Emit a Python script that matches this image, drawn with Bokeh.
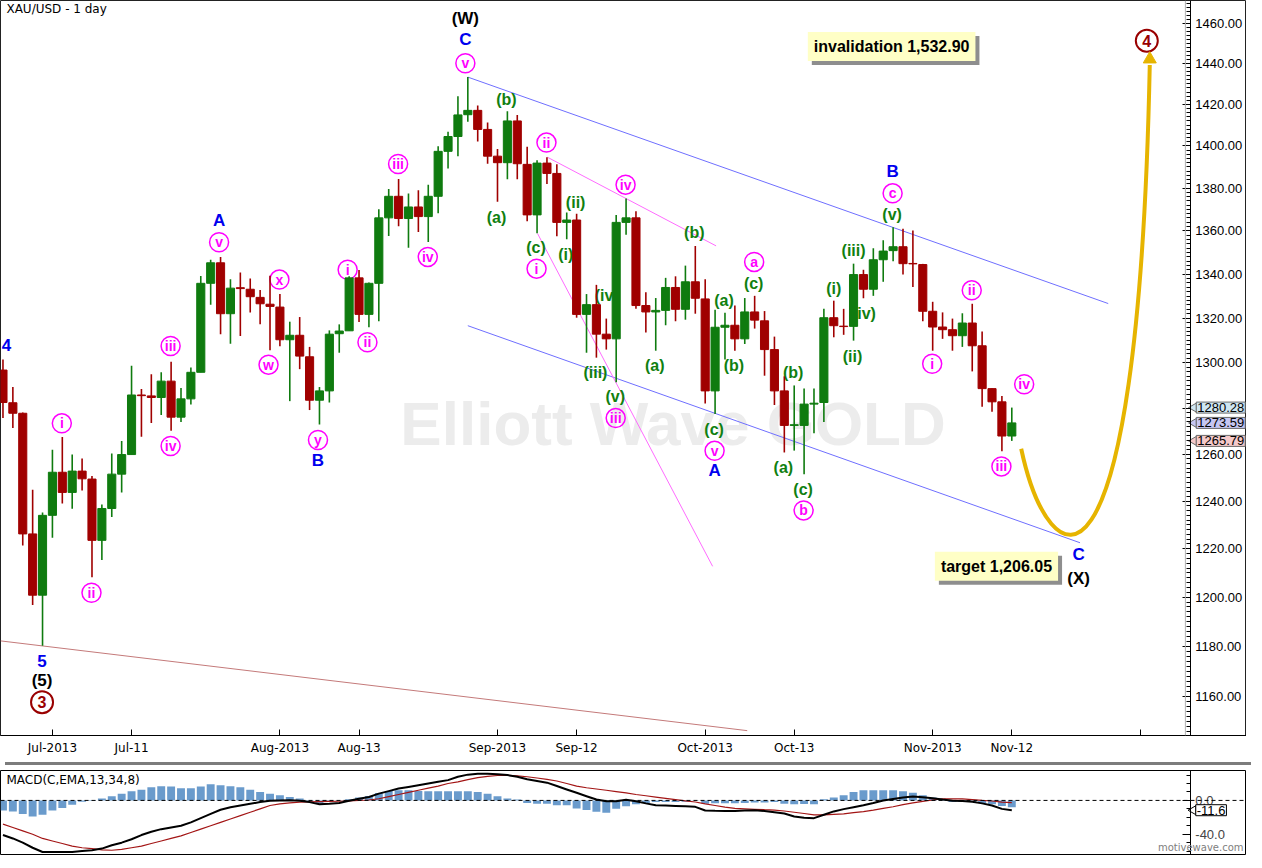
from bokeh.plotting import figure
from bokeh.models import (Range1d, FixedTicker, PrintfTickFormatter, Label, Span, Div,
                          LogAxis, LinearAxis)
from bokeh.layouts import column
from bokeh.core.properties import value
from bokeh.embed import file_html
from bokeh.resources import INLINE

# ---------------- data ----------------
opens = [1296.8,1282.4,1277.8,1226.2,1200.8,1234.0,1252.3,1243.7,1252.8,1249.4,
 1223.5,1236.9,1251.5,1259.9,1285.8,1285.4,1284.7,1291.9,1276.1,1284.1,
 1295.8,1335.8,1345.2,1322.0,1333.8,1333.1,1329.4,1326.3,1325.0,1310.3,
 1312.3,1302.7,1283.5,1287.6,1313.0,1314.3,1338.3,1321.7,1335.8,1366.0,
 1376.1,1365.7,1371.1,1366.6,1376.1,1397.4,1404.5,1415.0,1417.1,1407.9,
 1395.1,1392.0,1412.0,1391.2,1367.4,1391.8,1386.9,1363.9,1365.0,1321.7,
 1326.1,1312.8,1310.7,1363.9,1366.0,1325.7,1322.8,1323.5,1333.9,1324.0,
 1336.5,1328.7,1287.6,1315.9,1316.8,1310.7,1322.8,1318.8,1305.9,1287.6,
 1272.5,1272.5,1281.8,1282.5,1320.2,1316.4,1316.3,1339.8,1333.1,1346.6,
 1350.8,1352.6,1344.9,1344.4,1323.1,1316.0,1314.8,1312.1,1317.8,1307.6,
 1288.6,1282.8,1267.9]
highs = [1301.5,1289.3,1278.1,1244.8,1235.2,1262.0,1267.5,1259.9,1258.2,1250.7,
 1238.6,1260.3,1265.8,1298.7,1288.4,1294.9,1295.8,1300.5,1288.9,1297.9,
 1339.2,1346.6,1347.9,1337.6,1340.8,1338.0,1332.7,1339.3,1330.9,1318.4,
 1320.5,1307.1,1289.3,1314.5,1317.2,1339.0,1341.9,1336.2,1370.0,1379.5,
 1384.3,1377.4,1378.9,1381.5,1399.8,1406.8,1424.0,1433.3,1419.4,1411.2,
 1398.5,1416.7,1414.8,1399.6,1393.1,1394.6,1391.2,1368.5,1367.9,1330.9,
 1335.1,1319.8,1367.3,1375.1,1369.1,1331.7,1329.1,1338.3,1339.0,1343.9,
 1352.9,1337.6,1323.8,1322.4,1325.7,1329.1,1330.1,1323.2,1311.7,1294.0,
 1290.0,1288.6,1288.6,1324.2,1327.9,1324.2,1344.8,1342.0,1351.9,1355.6,
 1361.6,1360.9,1360.1,1344.7,1327.4,1322.6,1319.8,1322.2,1326.5,1314.0,
 1288.6,1285.4,1280.28]
lows = [1275.7,1271.4,1221.4,1196.8,1180.2,1224.6,1239.0,1236.8,1244.5,1208.2,
 1215.3,1233.3,1243.7,1259.9,1267.6,1273.6,1277.0,1270.2,1274.0,1281.6,
 1295.8,1326.1,1312.8,1308.5,1312.0,1322.6,1317.2,1305.6,1307.4,1283.1,
 1297.2,1279.2,1272.9,1282.5,1304.5,1314.3,1318.3,1315.9,1318.6,1357.6,
 1362.1,1352.1,1359.4,1354.8,1368.2,1389.2,1395.1,1411.6,1402.1,1391.5,
 1373.5,1384.1,1384.1,1364.4,1358.9,1381.9,1357.4,1356.1,1320.2,1304.5,
 1302.3,1305.9,1291.4,1358.2,1324.2,1313.5,1305.4,1316.8,1318.6,1319.3,
 1322.0,1282.1,1277.5,1301.5,1305.4,1308.4,1315.3,1294.3,1281.4,1260.8,
 1261.6,1251.4,1269.1,1274.0,1311.4,1312.5,1309.9,1329.0,1330.1,1336.5,
 1345.9,1339.8,1334.1,1318.6,1305.4,1310.7,1305.4,1307.1,1296.2,1280.6,
 1278.5,1261.3,1265.79]
closes = [1282.5,1277.8,1226.2,1200.8,1234.0,1252.3,1243.7,1252.8,1249.5,1223.5,
 1236.9,1251.5,1259.9,1285.8,1285.5,1284.7,1291.9,1276.1,1284.1,1295.8,
 1335.8,1345.2,1322.0,1333.6,1333.4,1329.7,1326.5,1325.3,1310.3,1312.3,
 1303.0,1283.5,1287.6,1312.8,1314.2,1338.3,1321.7,1335.8,1366.0,1376.1,
 1365.7,1371.1,1366.6,1376.1,1397.4,1404.5,1414.9,1417.1,1407.9,1395.1,
 1392.0,1412.0,1391.5,1367.4,1391.8,1386.9,1363.9,1365.0,1321.7,1326.1,
 1312.8,1310.7,1363.9,1366.0,1325.7,1322.8,1323.5,1333.9,1324.0,1336.5,
 1329.0,1287.6,1315.9,1316.8,1310.7,1322.8,1319.1,1305.9,1287.6,1272.5,
 1272.8,1281.8,1282.2,1320.2,1316.6,1316.2,1339.8,1333.1,1346.6,1350.6,
 1352.6,1344.8,1344.7,1323.1,1316.0,1314.8,1312.1,1317.8,1307.6,1288.6,
 1282.8,1267.9,1273.59]

macd_line = [-41,-45,-50,-56,-61,-61,-61,-61,-60,-59,
 -57,-53,-50,-46,-41,-37,-34,-32,-30,-26,
 -21,-16,-11,-8,-6,-4,-2,-0.5,0,0.3,
 -0.5,-2,-4.6,-4,-3,-0.5,2,4,8,11,
 14,16,18,20,22,24,28,30.5,31.5,31.5,
 31,30,28,25,23,21,17,13,9,5,
 1,-1,-1,0.8,-1,-3.5,-5.7,-6,-6.5,-7,
 -7.6,-12,-12.3,-12.5,-12.6,-12,-11.5,-12.5,-14,-15.5,
 -19,-20.5,-21,-17,-13,-10.3,-8,-5.7,-3,0,
 1.8,3.4,4.6,3.8,2.5,1,-0.3,-0.8,-1.5,-3.5,
 -6,-10,-11.6]
signal_line = [-28,-32,-36,-40,-45,-48,-51,-54,-56,-57,
 -58.5,-59,-58,-56,-54,-51,-48,-45,-42,-38,
 -34,-30,-26,-22,-18,-14,-10,-6,-4,-3,
 -2,-1.8,-1.5,-1.2,-1,-0.5,0,0.5,2,4.5,
 7,9.5,12,14.5,17,20,22,24.5,27,28.5,
 29.5,29.7,29,28,26.5,25,23,20,17,15,
 13.5,12,10.5,9,7,5.5,4,2.5,1,-0.5,
 -1.9,-4,-6,-8,-9.5,-10,-10.5,-11,-11.4,-12.5,
 -14,-15.5,-17,-17,-16.5,-16,-14.5,-13.3,-11.5,-9.5,
 -7.5,-5,-3,-1.1,0.5,1.9,1.9,1.9,1,0,
 -0.7,-2,-2.7]
histogram = [-12,-13,-16,-19,-17,-12,-9,-5,-1.5,0.5,
 2.3,5,8,10.7,12.6,15.6,16.8,16.4,14.5,14.5,
 16.4,19,18,16.8,15.6,12.6,10,8,6,4,
 2.3,-1.9,-3.8,-1.9,-0.3,1.5,3.4,5.3,8.8,11,
 12,12,11,10.7,10.7,10.7,10.7,10.7,9.9,8,
 5,2.3,1,-3,-3.8,-3.8,-5.7,-5.7,-9.5,-11.4,
 -13.3,-14.5,-10,-7,-4.6,-3,-1.9,-1.9,-1.9,-1.5,
 -0.5,-3.8,-3.5,-3.5,-3.5,-3,-2.5,-2.5,-2,-3.8,
 -4.6,-4.3,-4.6,1.5,3.4,6,10,12,12,12,
 12,10.7,9,6,3.4,1,-1.9,-1.9,-1.9,-3,
 -4.6,-6.5,-8]

date_ticks = [5, 13, 28, 36, 50, 58, 71, 80, 94, 102, 115]
date_labels = ["Jul-2013", "Jul-11", "Aug-2013", "Aug-13", "Sep-2013", "Sep-12",
               "Oct-2013", "Oct-13", "Nov-2013", "Nov-12", ""]
price_ticks = [1160, 1180, 1200, 1220, 1240, 1260, 1280, 1300, 1320, 1340, 1360,
               1380, 1400, 1420, 1440, 1460]
macd_ticks = [-40, 0]
last_tags = [(1280.28, "1280.28", "#cfe6f2"), (1273.59, "1273.59", "#c6c6f2"),
             (1265.79, "1265.79", "#f5c9c9")]

# wave labels: (text, bar position, price)
blue_labels = [("4", 0.35, 1307.9), ("C", 46.75, 1451.7), ("A", 21.85, 1364.6),
               ("B", 31.85, 1257.3), ("5", 3.95, 1174.0), ("A", 71.95, 1253.1),
               ("B", 89.95, 1387.7), ("C", 108.75, 1217.6)]
black_labels = [("(W)", 46.75, 1462.4), ("(5)", 3.95, 1166.2), ("(X)", 108.75, 1207.5)]
primary_labels = [("3", 3.95, 1157.7), ("4", 115.65, 1451.2)]
minor_labels = [("v", 46.75, 1440.1), ("v", 21.85, 1354.7), ("x", 27.95, 1337.5),
                ("w", 26.85, 1299.2), ("y", 31.85, 1266.2), ("i", 34.85, 1342.0),
                ("ii", 36.85, 1309.2), ("iii", 39.95, 1391.4), ("iv", 42.95, 1347.9),
                ("i", 5.95, 1273.4), ("ii", 8.95, 1201.8), ("iii", 16.95, 1307.5),
                ("iv", 16.95, 1263.6), ("i", 53.95, 1342.5), ("ii", 54.95, 1401.6),
                ("iii", 61.95, 1275.7), ("iv", 62.95, 1381.6), ("v", 71.95, 1261.5),
                ("a", 75.95, 1345.6), ("b", 80.95, 1236.1), ("c", 89.95, 1377.5),
                ("i", 93.95, 1299.6), ("ii", 97.95, 1332.6), ("iii", 100.95, 1254.8),
                ("iv", 103.25, 1290.5)]
minute_labels = [("(b)", 50.9, 1422.6), ("(a)", 49.9, 1366.2), ("(c)", 53.9, 1352.1),
                 ("(ii)", 57.9, 1373.0), ("(i)", 56.9, 1349.2), ("(iv)", 61.05, 1330.1),
                 ("(iii)", 59.9, 1295.7), ("(v)", 61.9, 1285.0), ("(b)", 69.9, 1359.1),
                 ("(a)", 65.9, 1298.6), ("(a)", 72.9, 1328.2), ("(c)", 75.9, 1335.6),
                 ("(b)", 73.9, 1298.6), ("(b)", 79.9, 1295.7), ("(c)", 71.9, 1270.7),
                 ("(a)", 78.9, 1254.5), ("(c)", 80.9, 1245.1), ("(i)", 84.0, 1333.4),
                 ("(ii)", 85.9, 1303.0), ("(iii)", 86.0, 1351.0), ("(iv)", 87.05, 1322.0),
                 ("(v)", 89.9, 1367.8)]

# trend lines: (x0, y0, x1, y1)
channel_lines = [(47, 1433.3, 111.75, 1326.6), (47, 1316.6, 108.9, 1222.5)]
pink_lines = [(55.05, 1394.6, 72.1, 1353.0), (54.05, 1358.7, 71.75, 1212.7)]
base_line = (-0.25, 1182.2, 75.25, 1146.5)
# projected path (bezier): start, control 1, control 2, end
proj = dict(x0=102.95, y0=1262.4, cx0=105.75, cy0=1207.9, cx1=114.75, cy1=1183.9,
            x1=115.95, y1=1439.2)
arrow_tip = (115.95, 1442.1)

# ---------------- styles ----------------
GREEN = "#0f7b0f"
RED = "#a00000"
LABEL_GREEN = "#108010"
MAG = "#ff00ff"
BLUE = "#0000ee"
DKRED = "#990000"
GOLD = "#e6b400"
W = 1246
SANS = "Liberation Sans"
AXIS_AT = 120.05      # bar position of the price axis line
FRAME_EDGE = 119.55   # bar position of the grey chart border
X_END = 125.73

n = len(closes)
idx = list(range(n))
colors = [GREEN if c >= o else RED for o, c in zip(opens, closes)]
tops = [max(o, c) for o, c in zip(opens, closes)]
bottoms = [min(o, c) for o, c in zip(opens, closes)]

x_range = Range1d(-0.25, X_END)

p = figure(frame_width=W, frame_height=735, y_axis_type="log", y_axis_location=None,
           x_range=x_range, y_range=Range1d(1144.6, 1471.3),
           output_backend="svg", toolbar_location=None,
           min_border_left=0, min_border_top=0, min_border_bottom=0, min_border_right=0)
p.grid.visible = False
p.outline_line_color = "#222222"
p.background_fill_color = "white"

yax = LogAxis(fixed_location=AXIS_AT)
yax.ticker = FixedTicker(ticks=price_ticks, minor_ticks=list(range(1146, 1472, 2)))
yax.formatter = PrintfTickFormatter(format="%.2f")
yax.major_tick_in = 8
yax.major_tick_out = 0
yax.minor_tick_in = 4
yax.minor_tick_out = 0
yax.major_label_standoff = 5
yax.major_label_text_font = SANS
yax.major_label_text_font_size = "13px"
yax.major_label_text_color = "black"
yax.axis_line_color = "black"
p.add_layout(yax, "right")
p.add_layout(Span(location=FRAME_EDGE, dimension="height", line_color="#b0b0b0",
                  line_width=1))

xax = p.xaxis[0]
xax.ticker = FixedTicker(ticks=date_ticks, minor_ticks=[])
xax.major_label_overrides = {t: l for t, l in zip(date_ticks, date_labels)}
xax.major_tick_in = 6
xax.major_tick_out = 0
xax.minor_tick_in = 0
xax.minor_tick_out = 0
xax.major_label_standoff = 5
xax.major_label_text_font = "DejaVu Sans"
xax.major_label_text_font_size = "12px"
xax.major_label_text_color = "black"
xax.axis_line_color = "black"

# watermark
p.text(x=[67.75], y=[1273.4], text=["Elliott Wave GOLD"], text_font=value(SANS),
       text_font_style="bold", text_font_size="62px", text_color="#ececec",
       text_align="center", text_baseline="middle")

# trend lines
for (a, b, c, d) in channel_lines:
    p.segment(x0=[a], y0=[b], x1=[c], y1=[d], line_color="#6f6fff", line_width=1)
for (a, b, c, d) in pink_lines:
    p.segment(x0=[a], y0=[b], x1=[c], y1=[d], line_color="#ff6bff", line_width=1)
p.segment(x0=[base_line[0]], y0=[base_line[1]], x1=[base_line[2]], y1=[base_line[3]],
          line_color="#c47a7a", line_width=1)

def txt(items, color, size, bold=True):
    p.text(x=[t[1] for t in items], y=[t[2] for t in items], text=[t[0] for t in items],
           text_font=value(SANS), text_font_style="bold" if bold else "normal",
           text_font_size=size, text_color=color, text_align="center",
           text_baseline="middle")

# circled labels
p.scatter(x=[t[1] for t in minor_labels], y=[t[2] for t in minor_labels], marker="circle",
          size=19, fill_color="white", fill_alpha=0.0, line_color=MAG, line_width=1.5)
p.scatter(x=[t[1] for t in primary_labels], y=[t[2] for t in primary_labels], marker="circle",
          size=22, fill_color="white", fill_alpha=0.0, line_color=DKRED, line_width=2)
txt(minor_labels, MAG, "14px")
txt(primary_labels, DKRED, "16px")
txt(minute_labels, LABEL_GREEN, "16px")
txt(blue_labels, BLUE, "17px")
txt(black_labels, "black", "17px")

# candles
p.segment(x0=idx, y0=lows, x1=idx, y1=highs, line_color=colors, line_width=1.6)
p.vbar(x=idx, width=0.82, top=tops, bottom=bottoms, fill_color=colors, line_color=colors,
       line_width=1)

# projection
p.bezier(x0=[proj["x0"]], y0=[proj["y0"]], x1=[proj["x1"]], y1=[proj["y1"]],
         cx0=[proj["cx0"]], cy0=[proj["cy0"]], cx1=[proj["cx1"]], cy1=[proj["cy1"]],
         line_color=GOLD, line_width=4)
p.scatter(x=[arrow_tip[0]], y=[arrow_tip[1]], marker="triangle", size=13,
          fill_color=GOLD, line_color=GOLD)

# boxes with drop shadow
def box(xv, yv, text):
    p.add_layout(Label(x=xv, y=yv, x_offset=4, y_offset=-4, text=text, text_font=SANS,
                       text_font_style="bold", text_font_size="16px", text_color="#8e8e8e",
                       text_align="center", text_baseline="middle",
                       background_fill_color="#8e8e8e", padding=6))
    p.add_layout(Label(x=xv, y=yv, text=text, text_font=SANS, text_font_style="bold",
                       text_font_size="16px", text_color="black", text_align="center",
                       text_baseline="middle", background_fill_color="#ffffc6", padding=6))

box(89.85, 1448.3, "invalidation 1,532.90")
box(100.45, 1212.7, "target 1,206.05")

# title
p.add_layout(Label(x=0.35, y=1467.1, text="XAU/USD - 1 day", text_font="DejaVu Sans",
                   text_font_size="12px", text_color="black", text_baseline="middle",
                   text_align="left"))

# last-bar price tags
for v, t, bg in last_tags:
    p.scatter(x=[AXIS_AT + 0.35], y=[v], marker="triangle", angle=1.5708, size=9,
              fill_color=bg, line_color="#6a6a6a")
    p.add_layout(Label(x=AXIS_AT + 0.6, y=v, text=t, text_font=SANS,
                       text_font_size="13px", text_color="black", text_baseline="middle",
                       text_align="left", background_fill_color=bg,
                       border_line_color="#6a6a6a", padding=1))

# ---------------- MACD panel ----------------
q = figure(frame_width=W, frame_height=84, y_axis_location=None,
           x_range=x_range, y_range=Range1d(-64, 35.4),
           output_backend="svg", toolbar_location=None,
           min_border_left=0, min_border_top=0, min_border_bottom=2, min_border_right=0)
q.grid.visible = False
q.xaxis.visible = False
q.outline_line_color = "black"
qy = LinearAxis(fixed_location=AXIS_AT)
qy.ticker = FixedTicker(ticks=macd_ticks, minor_ticks=[-60, -50, -30, -20, -10, 10, 20, 30])
qy.formatter = PrintfTickFormatter(format="%.1f")
qy.major_tick_in = 8
qy.major_tick_out = 0
qy.minor_tick_in = 4
qy.minor_tick_out = 0
qy.major_label_standoff = 5
qy.major_label_text_font = SANS
qy.major_label_text_font_size = "13px"
qy.axis_line_color = "black"
q.add_layout(qy, "right")

q.vbar(x=idx, width=0.8, top=histogram, bottom=0, fill_color="#6a9bcc",
       line_color=None)
q.add_layout(Span(location=0, dimension="width", line_color="black", line_width=1,
                  line_dash="4 3"))
q.line(idx, signal_line, line_color="#a31515", line_width=1.2)
q.line(idx, macd_line, line_color="black", line_width=2)

q.add_layout(Label(x=0.35, y=24, text="MACD(C,EMA,13,34,8)", text_font="DejaVu Sans",
                   text_font_size="12px", text_color="black", text_baseline="middle"))
q.scatter(x=[AXIS_AT + 0.3], y=[macd_line[-1]], marker="triangle", angle=1.5708, size=9,
          fill_color="white", line_color="black")
q.add_layout(Label(x=AXIS_AT + 0.55, y=macd_line[-1], text="-11.6",
                   text_font=SANS, text_font_size="13px", text_color="black",
                   text_baseline="middle", background_fill_color="white",
                   border_line_color="black", padding=1))
q.add_layout(Label(x=X_END - 0.3, y=-56, text="motivewave.com",
                   text_font="DejaVu Sans", text_font_size="10px", text_color="#808080",
                   text_baseline="middle", text_align="right"))

sep = Div(text="", width=W, height=3, styles={"background-color": "#7c7c7c"})

layout = column(p, sep, q, spacing=0)
open("out.html", "w").write(file_html(layout, INLINE))
